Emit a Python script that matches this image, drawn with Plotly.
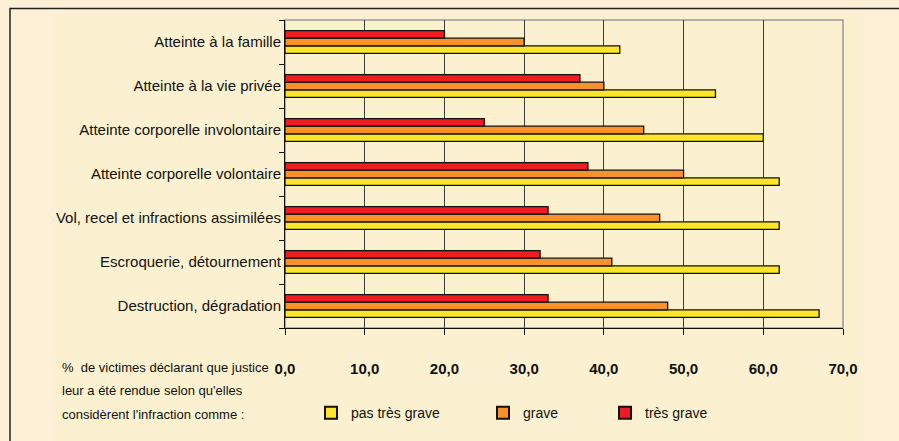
import plotly.graph_objects as go

# Categories listed bottom-to-top (Plotly's category axis starts at the bottom)
categories = [
    "Destruction, dégradation",
    "Escroquerie, détournement",
    "Vol, recel et infractions assimilées",
    "Atteinte corporelle volontaire",
    "Atteinte corporelle involontaire",
    "Atteinte à la vie privée",
    "Atteinte à la famille",
]
pas_tres_grave = [67, 62, 62, 62, 60, 54, 42]
grave = [48, 41, 47, 50, 45, 40, 30]
tres_grave = [33, 32, 33, 38, 25, 37, 20]

x_ticks = [0, 10, 20, 30, 40, 50, 60, 70]
note_lines = [
    "%  de victimes déclarant que justice",
    "leur a été rendue selon qu'elles",
    "considèrent l'infraction comme :",
]

W, H = 899, 441
L, R, T, B = 285, 56, 20, 99
PW, PH = W - L - R, H - T - B


def px(xp):
    return (xp - L) / PW


def py(yp):
    return (H - B - yp) / PH


FONT = "Liberation Sans, Arial, sans-serif"

fig = go.Figure()
series = [
    ("pas très grave", pas_tres_grave, "#FFE42B", "legend"),
    ("grave", grave, "#F7922A", "legend2"),
    ("très grave", tres_grave, "#EE1D25", "legend3"),
]
for name, vals, col, lg in series:
    fig.add_trace(go.Bar(
        y=categories, x=vals, name=name, orientation="h",
        marker=dict(color=col, line=dict(color="#111111", width=1.3)),
        legend=lg,
    ))

legend_common = dict(
    orientation="h", yanchor="middle", xanchor="left",
    bgcolor="rgba(0,0,0,0)", itemwidth=30,
    font=dict(family=FONT, size=14, color="#111111"),
    itemsizing="constant",
)
fig.update_layout(
    width=W, height=H, autosize=False,
    margin=dict(l=L, r=R, t=T, b=B, pad=0),
    paper_bgcolor="#FEEFD7",
    plot_bgcolor="#FBF1D0",
    barmode="group", bargap=0.48, bargroupgap=0,
    separators=", ",
    showlegend=True,
    legend=dict(x=px(311), y=py(431), **legend_common),
    legend2=dict(x=px(483), y=py(431), **legend_common),
    legend3=dict(x=px(605), y=py(431), **legend_common),
    xaxis=dict(
        range=[0, 70], tickvals=x_ticks, tickformat=".1f",
        showgrid=True, gridcolor="#3c3c3c", gridwidth=1,
        zeroline=False, showline=True, linecolor="#111111", linewidth=1,
        ticks="outside", ticklen=6, tickcolor="#111111",
        ticklabelstandoff=21,
        tickfont=dict(family=FONT, size=15, color="#111111", weight="bold"),
        fixedrange=True,
    ),
    yaxis=dict(
        categoryorder="array", categoryarray=categories,
        showgrid=False, zeroline=False, showline=True,
        linecolor="#111111", linewidth=1,
        ticks="outside", ticklen=5, tickcolor="#111111",
        tickson="boundaries",
        tickfont=dict(family=FONT, size=15, color="#111111"),
        fixedrange=True,
    ),
    shapes=[
        # inner panel
        dict(type="rect", xref="paper", yref="paper",
             x0=px(53), x1=px(861), y0=py(520), y1=py(13),
             fillcolor="#FBF1D0", line=dict(width=0), layer="below"),
        # outer frame
        dict(type="rect", xref="paper", yref="paper",
             x0=px(10), x1=px(1000), y0=py(520), y1=py(8),
             fillcolor="rgba(0,0,0,0)", line=dict(color="#222222", width=1.5),
             layer="below"),
        # grey plot border (top & right)
        dict(type="rect", xref="paper", yref="paper",
             x0=0, x1=1, y0=0, y1=1,
             fillcolor="rgba(0,0,0,0)", line=dict(color="#999999", width=1.5),
             layer="below"),
    ],
)

for i, line in enumerate(note_lines):
    fig.add_annotation(
        xref="paper", yref="paper", x=px(60), y=py(383 + i * 24.5),
        xanchor="left", yanchor="middle", showarrow=False,
        text=line, font=dict(family=FONT, size=13, color="#111111"),
    )

fig.write_html("out.html")
